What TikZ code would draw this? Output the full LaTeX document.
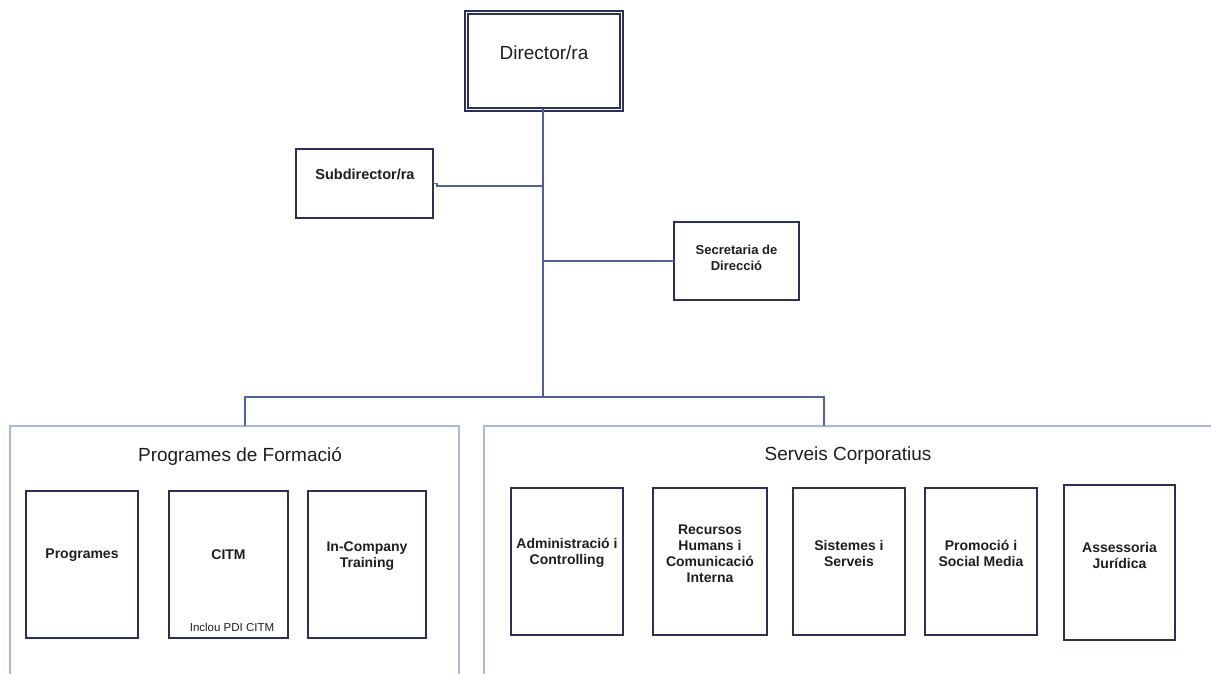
\documentclass[tikz,border=0pt]{standalone}
\usepackage{fontspec}
\setmainfont{Liberation Sans}
\usetikzlibrary{positioning}

\definecolor{boxline}{HTML}{2B2F5E}
\definecolor{conline}{HTML}{4F5FA8}
\definecolor{panline}{HTML}{A8B8E0}
\definecolor{inktext}{HTML}{1E1E1E}

\tikzset{
  unitbox/.style={draw=boxline, line width=1.3pt, rectangle, inner sep=0pt, outer sep=0pt},
  unittext/.style={align=center, text=inktext, font=\fontsize{14}{16}\selectfont\bfseries, inner sep=0pt},
  panelbox/.style={draw=panline, line width=1.1pt, rectangle, inner sep=0pt, outer sep=0pt},
  paneltitle/.style={text=inktext, font=\fontsize{19}{22}\selectfont, inner sep=0pt},
  conn/.style={draw=conline, line width=1.2pt}
}

\begin{document}
\begin{tikzpicture}[x=1pt, y=-1pt]
        \useasboundingbox (0,0) rectangle (1211,674);
        % direction
        \node[unitbox, double, line width=1.4pt, double distance=1.6pt, minimum width=155pt, minimum height=97pt] (dir) at (544,61) {};
        \node[text=inktext, font=\fontsize{19}{22}\selectfont, inner sep=0pt] (dirtxt) at (544,53) {Director/ra};
        \node[unitbox, minimum width=137pt, minimum height=69pt] (sub) at (364.5,183.5) {};
        \node[unittext, font=\fontsize{14.5}{16}\selectfont\bfseries] (subtxt) at (365,174) {Subdirector/ra};
        \node[unitbox, minimum width=125pt, minimum height=78pt] (sec) at (736.5,261) {};
        \node[unittext, font=\fontsize{13}{15.5}\selectfont\bfseries] (sectxt) at (736.5,258) {Secretaria de\\Direcció};

        % panels
        \node[panelbox, minimum width=449pt, minimum height=260pt] (formacio) at (234.5,556) {};
        \node[panelbox, minimum width=740pt, minimum height=260pt] (serveis) at (854,556) {};
        \node[paneltitle] (formaciotxt) at (240,456) {Programes de Formació};
        \node[paneltitle] (serveistxt) at (848,456) {Serveis Corporatius};

        % programes de formacio
        \node[unitbox, minimum width=112pt, minimum height=147pt] (prog) at (82,564.5) {};
        \node[unittext] (progtxt) at (82,555) {Programes};
        \node[unitbox, minimum width=119pt, minimum height=147pt] (citm) at (228.5,564.5) {};
        \node[unittext] (citmtxt) at (228.5,555) {CITM};
        \node[text=inktext, font=\fontsize{11.5}{13}\selectfont, inner sep=0pt] (pdi) at (232,627) {Inclou PDI CITM};
        \node[unitbox, minimum width=118pt, minimum height=147pt] (inco) at (367,564.5) {};
        \node[unittext] (incotxt) at (367,556) {In-Company\\Training};

        % serveis corporatius
        \node[unitbox, minimum width=112pt, minimum height=147pt] (admin) at (567,561.5) {};
        \node[unittext] (admintxt) at (567,553) {Administració i\\Controlling};
        \node[unitbox, minimum width=114pt, minimum height=147pt] (rrhh) at (710,561.5) {};
        \node[unittext] (rrhhtxt) at (710,553.5) {Recursos\\Humans i\\Comunicació\\Interna};
        \node[unitbox, minimum width=112pt, minimum height=147pt] (sist) at (849,561.5) {};
        \node[unittext] (sisttxt) at (849,553) {Sistemes i\\Serveis};
        \node[unitbox, minimum width=112pt, minimum height=147pt] (promo) at (981,561.5) {};
        \node[unittext] (promotxt) at (981,553) {Promoció i\\Social Media};
        \node[unitbox, minimum width=111pt, minimum height=155pt] (juri) at (1119.5,562.5) {};
        \node[unittext] (juritxt) at (1119.5,555) {Assessoria\\Jurídica};

        % connectors
        \coordinate (jsub) at (543,186);
        \coordinate (jsec) at (543,261);
        \coordinate (hub) at (543,397);
        \draw[conn] (dir.south -| hub) -- (hub);
        \draw[conn] (sub.east) -- ++(4,0) |- (jsub);
        \draw[conn] (jsec) -- (sec.west);
        \draw[conn] (hub) -| ([xshift=10.5pt]formacio.north);
        \draw[conn] (hub) -| ([xshift=-30pt]serveis.north);
    \end{tikzpicture}
\end{document}
